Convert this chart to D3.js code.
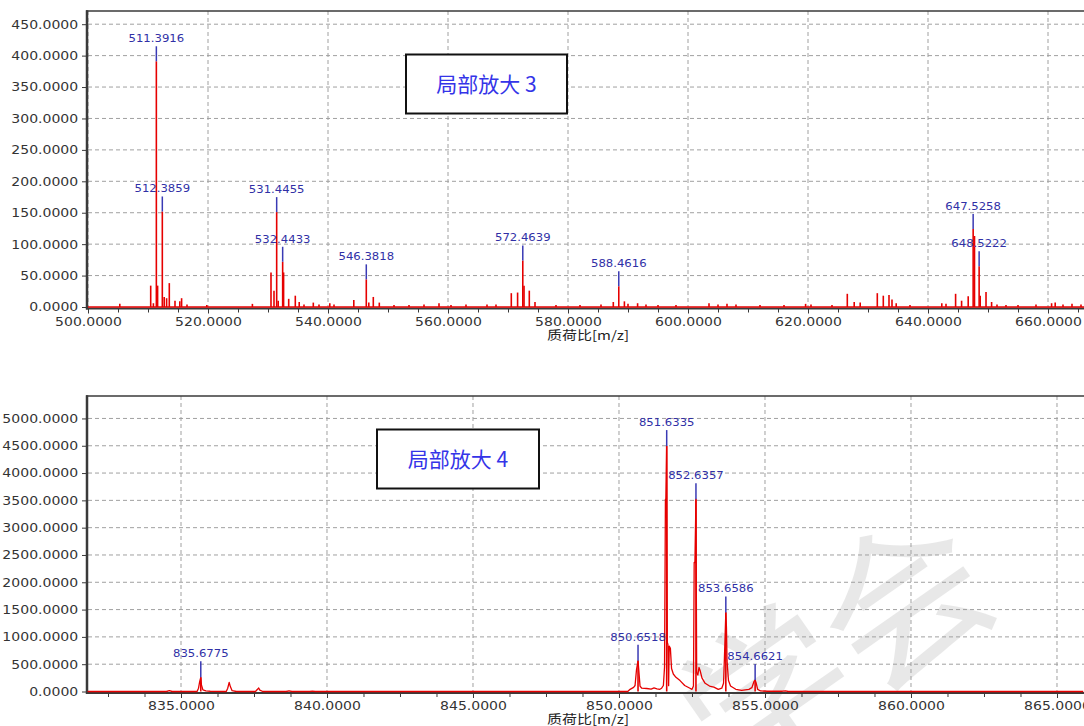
<!DOCTYPE html>
<html>
<head>
<meta charset="utf-8">
<script src="https://cdn.jsdelivr.net/npm/d3@7"></script>
<style>
  body { margin: 0; background: #fff; }
  svg { display: block; }
</style>
</head>
<body>
<svg id="chart" width="1084" height="726"></svg>
<script>
// ---------- Panel 3: m/z 500–666 (stick spectrum) ----------
const p3XTicks = [500, 520, 540, 560, 580, 600, 620, 640, 660];
const p3YTicks = [0, 50, 100, 150, 200, 250, 300, 350, 400, 450];

// annotated peaks
const p3LabelMz  = [511.3916, 512.3859, 531.4455, 532.4433, 546.3818, 572.4639, 588.4616, 647.5258, 648.5222];
const p3LabelInt = [391, 152, 151, 72, 44, 74, 33, 124, 65];

// other peaks
const p3PeakMz  = [505.3, 510.45, 510.9, 511.6, 512.7, 513.1, 513.55, 514.5, 515.3, 515.6, 516.5, 519.8,
                   527.4, 530.5, 531.0, 531.7, 532.6, 533.45, 534.55, 535.2, 536.0, 537.55, 538.5, 540.3,
                   541.0, 544.3, 546.8, 547.55, 548.55, 551.0, 553.5, 556.0, 558.5, 560.5, 563.0, 566.5,
                   568.0, 570.55, 571.6, 572.67, 573.55, 574.5, 578.0, 582.0, 585.5, 587.55, 589.4, 590.0,
                   591.6, 593.0, 595.0, 598.0, 603.5, 605.0, 606.5, 608.0, 612.0, 616.0, 619.6, 620.5,
                   624.0, 626.55, 627.7, 628.7, 631.55, 632.55, 633.5, 634.0, 634.7, 637.0, 642.3, 643.0,
                   644.6, 645.6, 646.7, 647.75, 648.7, 649.67, 650.6, 651.5, 653.0, 655.0, 658.0, 660.6,
                   661.2, 662.5, 664.0, 665.5];
const p3PeakInt = [5, 34, 6, 34, 16, 14, 38, 10, 9, 14, 4, 3,
                   5, 55, 26, 10, 55, 13, 18, 8, 4, 7, 4, 6,
                   4, 11, 7, 16, 7, 3, 3, 4, 6, 3, 4, 4,
                   4, 22, 23, 34, 26, 8, 3, 3, 4, 8, 9, 5,
                   6, 4, 3, 3, 6, 4, 5, 4, 3, 3, 5, 4,
                   3, 21, 8, 7, 22, 18, 19, 12, 6, 3, 6, 5,
                   21, 10, 17, 113, 18, 24, 8, 4, 3, 3, 4, 6,
                   7, 4, 5, 4];

// ---------- Panel 4: m/z 831.8–865.9 (profile spectrum) ----------
const p4XTicks = [835, 840, 845, 850, 855, 860, 865];
const p4YTicks = [0, 500, 1000, 1500, 2000, 2500, 3000, 3500, 4000, 4500, 5000];

const p4LabelMz  = [835.6775, 850.6518, 851.6335, 852.6357, 853.6586, 854.6621];
const p4LabelInt = [260, 563, 4494, 3520, 1448, 210];

const p4ProfileMz  = [831.8, 834.5, 834.6, 834.7, 835.55, 835.6, 835.64, 835.6775, 835.7, 835.75, 835.85, 836.0,
                      836.55, 836.6, 836.65, 836.69, 836.75, 836.9, 837.55, 837.62, 837.66, 837.7, 837.8,
                      838.6, 838.7, 838.8, 839.4, 839.5, 839.6, 850.3, 850.38, 850.5, 850.55, 850.6,
                      850.6518, 850.675, 850.72, 850.78, 850.95, 851.1, 851.2, 851.3, 851.4, 851.46, 851.52,
                      851.56, 851.59, 851.605, 851.6335, 851.655, 851.675, 851.7, 851.72, 851.76, 851.8,
                      851.86, 851.95, 852.09, 852.25, 852.43, 852.5, 852.55, 852.575, 852.6, 852.6357,
                      852.66, 852.7, 852.74, 852.78, 852.84, 852.95, 853.1, 853.25, 853.4, 853.52, 853.58,
                      853.61, 853.6586, 853.68, 853.7, 853.75, 853.82, 854.0, 854.2, 854.45, 854.55, 854.62,
                      854.6621, 854.7, 854.75, 854.85, 855.1, 855.6, 855.7, 855.8, 865.9];
const p4ProfileInt = [0, 0, 15, 0, 0, 60, 180, 260, 120, 30, 10, 5,
                      0, 60, 168, 90, 15, 0, 0, 40, 64, 25, 0,
                      0, 12, 0, 0, 8, 0, 0, 40, 75, 110, 400,
                      563, 411, 100, 60, 55, 45, 65, 50, 40, 60, 110,
                      450, 3520, 3520, 4494, 900, 860, 107, 830, 790, 420,
                      320, 260, 200, 110, 60, 40, 100, 2362, 2362, 3520,
                      350, 300, 440, 380, 250, 150, 100, 80, 40, 60, 150,
                      600, 1448, 1173, 560, 200, 100, 40, 20, 40, 70, 180,
                      210, 150, 40, 10, 5, 5, 10, 0, 0];

const RED = "#e60000";
const AXIS = "#3a3a3a";
const LABEL_BLUE = "#3030a6";
const MARK_BLUE = "#3a3ab4";
const fmt4 = d3.format(".4f");

const svg = d3.select("#chart");

// faint diagonal watermark, underneath the plots
svg.append("text")
  .attr("transform", "translate(830,640) rotate(-35)")
  .attr("text-anchor", "middle").attr("dominant-baseline", "central")
  .attr("font-family", "'Noto Sans CJK SC', sans-serif").attr("font-size", 165)
  .attr("fill", "#000").attr("opacity", 0.085)
  .style("pointer-events", "none")
  .text("学会");

function drawPanel(p) {
  const x = d3.scaleLinear().domain(p.xDomain).range([88, 1084]);
  const y = d3.scaleLinear().domain(p.yDomain).range([p.y0, p.yTop]);
  const g = svg.append("g");

  // dashed grid
  g.append("g").selectAll("line").data(p.xTicks).join("line")
    .attr("x1", d => x(d)).attr("x2", d => x(d))
    .attr("y1", p.yTop).attr("y2", p.y0)
    .attr("stroke", "#a0a0a0").attr("stroke-dasharray", "4,3");
  g.append("g").selectAll("line").data(p.yTicks.filter(v => v > 0)).join("line")
    .attr("x1", 88).attr("x2", 1084)
    .attr("y1", d => y(d)).attr("y2", d => y(d))
    .attr("stroke", "#a0a0a0").attr("stroke-dasharray", "4,3");

  // x axis: minor then major ticks
  const minor = g.append("g").attr("transform", `translate(0,${p.y0 + 1.5})`)
    .call(d3.axisBottom(x).tickValues(p.xMinor).tickSize(4).tickFormat(""));
  minor.select(".domain").remove();
  minor.selectAll("line").attr("stroke", AXIS);

  const xa = g.append("g").attr("transform", `translate(0,${p.y0 + 1.5})`)
    .call(d3.axisBottom(x).tickValues(p.xTicks).tickSize(5).tickFormat(fmt4));
  xa.select(".domain").remove();
  xa.attr("font-family", "'DejaVu Sans', Verdana, sans-serif").attr("font-size", 12);
  xa.selectAll("line").attr("stroke", AXIS);
  xa.selectAll("text").attr("y", p.xLabelDy).attr("dy", null)
    .attr("fill", "#333").attr("transform", "scale(1.17,1)");

  // y axis
  const ya = g.append("g").attr("transform", "translate(87,0)")
    .call(d3.axisLeft(y).tickValues(p.yTicks).tickSize(5).tickFormat(fmt4));
  ya.select(".domain").remove();
  ya.attr("font-family", "'DejaVu Sans', Verdana, sans-serif").attr("font-size", 12);
  ya.selectAll("line").attr("stroke", AXIS);
  ya.selectAll("text").attr("x", -7.5).attr("fill", "#333").attr("transform", "scale(1.17,1)");

  // frame
  g.append("line").attr("x1", 86).attr("x2", 1084).attr("y1", p.yTop).attr("y2", p.yTop)
    .attr("stroke", AXIS).attr("stroke-width", 1.5);
  g.append("line").attr("x1", 87).attr("x2", 87).attr("y1", p.yTop - 0.75).attr("y2", p.y0 + 2.5)
    .attr("stroke", AXIS).attr("stroke-width", 2.5);
  g.append("line").attr("x1", 86).attr("x2", 1084).attr("y1", p.y0 + 1.5).attr("y2", p.y0 + 1.5)
    .attr("stroke", AXIS).attr("stroke-width", 2);

  // spectrum
  if (p.sticks) {
    g.append("line").attr("x1", 88).attr("x2", 1084).attr("y1", p.y0).attr("y2", p.y0)
      .attr("stroke", RED).attr("stroke-width", 1.3);
    g.append("g").selectAll("line").data(p.sticks).join("line")
      .attr("x1", d => x(d[0])).attr("x2", d => x(d[0]))
      .attr("y1", p.y0).attr("y2", d => y(d[1]))
      .attr("stroke", RED).attr("stroke-width", 1.6);
  }
  if (p.profile) {
    g.append("path").datum(p.profile)
      .attr("d", d3.line().x(d => x(d[0])).y(d => y(d[1])))
      .attr("fill", "none").attr("stroke", RED).attr("stroke-width", 1.3)
      .attr("stroke-linejoin", "round");
  }

  // annotated peaks: red stick, blue marker, m/z label
  const lab = g.append("g").selectAll("g").data(p.labels).join("g");
  lab.append("line")
    .attr("x1", d => x(d[0])).attr("x2", d => x(d[0]))
    .attr("y1", p.y0).attr("y2", d => y(d[1]))
    .attr("stroke", RED).attr("stroke-width", 1.6);
  lab.append("line")
    .attr("x1", d => x(d[0])).attr("x2", d => x(d[0]))
    .attr("y1", d => y(d[1])).attr("y2", d => y(d[1]) - p.markLen)
    .attr("stroke", MARK_BLUE).attr("stroke-width", 1.5);
  lab.append("text")
    .attr("transform", d => `translate(${x(d[0])},${y(d[1]) - p.markLen - 4}) scale(1.06,1)`)
    .attr("text-anchor", "middle")
    .attr("font-family", "'DejaVu Sans', Verdana, sans-serif").attr("font-size", 11)
    .attr("fill", LABEL_BLUE)
    .text(d => fmt4(d[0]));

  // axis title
  g.append("text")
    .attr("transform", `translate(588,${p.titleY}) scale(1.2,1)`)
    .attr("text-anchor", "middle")
    .attr("font-family", "'Noto Sans CJK SC', sans-serif").attr("font-size", 12.5)
    .attr("fill", "#222")
    .text("质荷比[m/z]");

  // callout box
  const b = p.box;
  g.append("rect").attr("x", b.x).attr("y", b.y).attr("width", b.w).attr("height", b.h)
    .attr("fill", "#fff").attr("stroke", "#111").attr("stroke-width", 2);
  g.append("text")
    .attr("x", b.x + b.w / 2).attr("y", b.y + b.h / 2 + 8)
    .attr("text-anchor", "middle")
    .attr("font-family", "'Noto Sans CJK SC', sans-serif").attr("font-size", 21)
    .attr("fill", "#3434e8")
    .text(b.text);
}

const range = (a, b, s) => d3.range(a, b + 1e-9, s);

drawPanel({
  xDomain: [500, 666], yDomain: [0, 471],
  y0: 307, yTop: 11,
  xTicks: p3XTicks, yTicks: p3YTicks,
  xMinor: range(500, 665, 5).filter(v => v % 20 !== 0),
  xLabelDy: 18,
  sticks: d3.zip(p3PeakMz, p3PeakInt),
  labels: d3.zip(p3LabelMz, p3LabelInt),
  markLen: 15,
  titleY: 340,
  box: { x: 406, y: 54.5, w: 161, h: 59, text: "局部放大 3" }
});

drawPanel({
  xDomain: [831.815, 865.925], yDomain: [0, 5411],
  y0: 691.5, yTop: 396,
  xTicks: p4XTicks, yTicks: p4YTicks,
  xMinor: range(831.25, 865.9, 1.25).filter(v => v >= 831.8 && Math.abs(v / 5 - Math.round(v / 5)) > 1e-6),
  xLabelDy: 17,
  profile: d3.zip(p4ProfileMz, p4ProfileInt),
  labels: d3.zip(p4LabelMz, p4LabelInt),
  markLen: 16,
  titleY: 724,
  box: { x: 377, y: 429.5, w: 162, h: 59, text: "局部放大 4" }
});
</script>
</body>
</html>
